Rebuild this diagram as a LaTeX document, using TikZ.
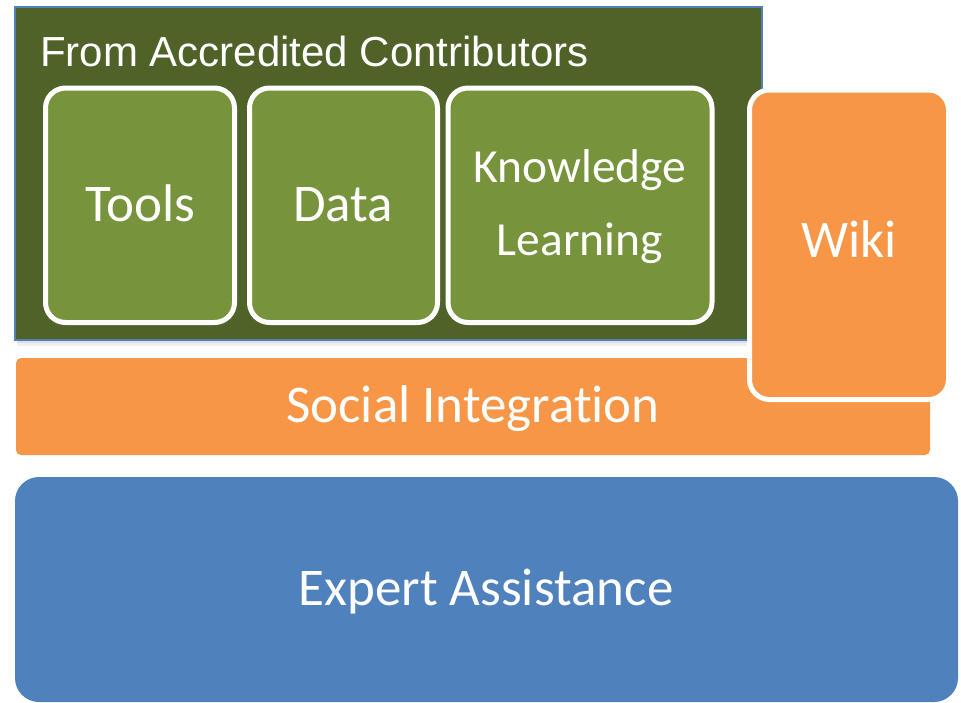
\documentclass[tikz,border=0pt]{standalone}
\usepackage{fontspec}
\setmainfont{Carlito}[Ligatures=NoCommon]
\newfontfamily\arialf{Liberation Sans}
\definecolor{dkgreen}{HTML}{4F6228}
\definecolor{ltgreen}{HTML}{77933C}
\definecolor{orng}{HTML}{F79646}
\definecolor{blu}{HTML}{4F81BD}
\tikzset{
  innerbox/.style={fill=ltgreen, draw=white, line width=5pt, rounded corners=20pt},
  lbl/.style={text=white, font=\fontsize{53}{60}\selectfont, inner sep=0pt, anchor=base},
}
\begin{document}
\begin{tikzpicture}[x=1pt,y=-1pt]
\useasboundingbox (0,0) rectangle (961,702);
% Expert assistance
\fill[blu, rounded corners=24pt] (15,477) rectangle (958,702);
\node[lbl] (expert) at (486,605) {Expert Assistance};
% Social integration
\fill[orng, rounded corners=5pt] (16,358) rectangle (930,455);
\node[lbl] (social) at (473,422) {Social Integration};
% dark green panel with soft shadow
\fill[gray, opacity=0.12] (17,340) rectangle (762,346);
\fill[gray, opacity=0.15] (17,340) rectangle (762,343);
\draw[fill=dkgreen, draw=blu, line width=1.5pt] (15,7) rectangle (762,340);
\node[text=white, font=\arialf\fontsize{42}{48}\selectfont, anchor=base west, inner sep=0pt] (from) at (40,66) {From Accredited Contributors};
% inner boxes
\draw[innerbox] (45.5,88) rectangle (234.5,322.5);
\draw[innerbox] (249.5,88) rectangle (437.5,322.5);
\draw[innerbox] (448,88) rectangle (712,322.5);
\node[lbl] (tools) at (140,221) {Tools};
\node[lbl] (data) at (343,221) {Data};
\node[lbl, font=\fontsize{47.5}{54}\selectfont] (know) at (580,182) {Knowledge};
\node[lbl, font=\fontsize{47.5}{54}\selectfont] (learn) at (580,255) {Learning};
% Wiki
\draw[fill=orng, draw=white, line width=5pt, rounded corners=20pt] (749.5,90) rectangle (948.5,399.5);
\node[lbl] (wiki) at (849,257) {Wiki};
\end{tikzpicture}
\end{document}
